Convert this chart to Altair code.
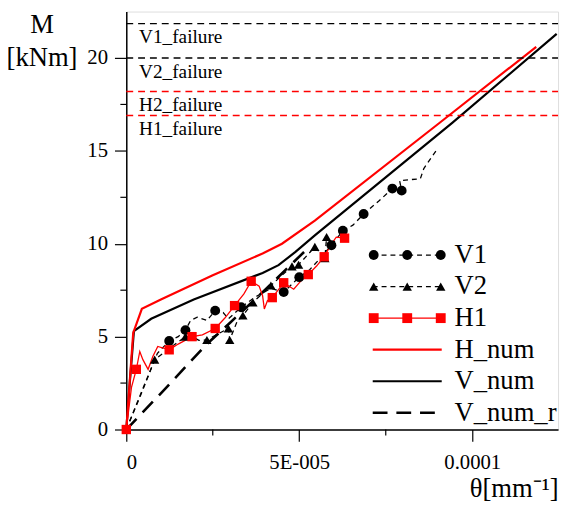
import altair as alt
import pandas as pd

# ---------------- data (theta in units of 1e-5 mm^-1, M in kNm) ----------------
# numerical models
h_num_theta = [0, 0.1, 0.2, 0.45, 1.0, 2.5, 3.94, 4.5, 5.45, 9.05, 11.85]
h_num_M = [0, 2.6, 5.2, 6.5, 7.0, 8.3, 9.48, 10.0, 11.24, 16.5, 20.6]

v_num_theta = [0, 0.1, 0.22, 0.72, 1.95, 3.94, 4.4, 4.89, 5.45, 9.43, 12.44]
v_num_M = [0, 2.5, 5.3, 5.96, 7.0, 8.43, 8.85, 9.56, 10.45, 16.52, 21.3]

v_num_r_theta = [0, 1.0, 2.33, 3.0, 4.0, 5.3]
v_num_r_M = [0, 1.95, 4.6, 5.75, 7.5, 9.85]

# experiments
v1_theta = [0, 0.5, 0.9, 1.24, 1.5, 1.71, 1.86, 2.05, 2.33, 2.57, 2.8, 2.95, 3.32, 3.7,
            4.18, 4.55, 5.0, 5.3, 5.6, 5.93, 6.26, 6.55, 6.86, 7.3, 7.69, 7.96, 7.9, 8.5, 8.6, 8.96]
v1_M = [0, 2.3, 4.1, 4.77, 5.0, 5.35, 5.87, 6.05, 5.87, 6.4, 6.3, 5.96, 6.58, 7.1,
        7.6, 7.4, 8.2, 8.6, 9.2, 9.92, 10.7, 11.0, 11.6, 12.3, 12.97, 12.86, 13.4, 13.5, 14.05, 15.02]
v1_marker = [0, 0, 0, 1, 0, 1, 0, 0, 0, 1, 0, 0, 1, 0,
             0, 1, 1, 0, 0, 1, 1, 0, 1, 0, 1, 1, 0, 0, 0, 0]

v2_theta = [0, 0.45, 0.82, 1.2, 1.71, 1.9, 2.1, 2.33, 2.6, 2.95, 2.99, 3.2, 3.37, 3.66,
            4.18, 4.5, 4.79, 4.98, 5.45, 5.74, 5.79]
v2_M = [0, 2.0, 3.76, 4.3, 5.0, 5.0, 4.8, 4.82, 5.1, 5.44, 4.82, 5.8, 6.14, 6.84,
        7.75, 8.3, 8.78, 8.87, 9.83, 9.22, 10.36]
v2_marker = [0, 0, 1, 0, 1, 1, 0, 1, 0, 1, 1, 0, 1, 1,
             1, 0, 1, 1, 1, 1, 1]

h1_theta = [0, 0.15, 0.29, 0.39, 0.48, 0.63, 0.77, 0.91, 1.24, 1.5, 1.9, 2.2, 2.57, 2.85,
            3.13, 3.4, 3.61, 3.84, 3.94, 3.99, 4.08, 4.22, 4.55, 4.84, 5.08, 5.26, 5.5,
            5.72, 5.93, 6.07, 6.31]
h1_M = [0, 2.27, 3.24, 4.2, 3.76, 3.24, 3.94, 4.47, 4.29, 4.6, 5.0, 5.1, 5.44, 6.0,
        6.67, 7.3, 7.98, 7.72, 7.2, 6.49, 6.93, 7.1, 7.9, 7.55, 8.07, 8.34, 8.8,
        9.3, 10.0, 10.36, 10.3]
h1_marker = [1, 0, 1, 0, 0, 0, 0, 0, 1, 0, 1, 0, 1, 0,
             1, 0, 1, 0, 0, 0, 0, 1, 1, 0, 0, 1, 0,
             1, 0, 0, 1]

# failure levels
failure_names = ["V1_failure", "V2_failure", "H2_failure", "H1_failure"]
failure_M = [21.85, 20.0, 18.2, 16.9]
failure_colors = ["#000000", "#000000", "#ff0000", "#ff0000"]

# axes
x_ticks = [0, 5e-5, 1e-4]
x_tick_labels = ["0", "5E-005", "0.0001"]
x_minor = [2.5e-5, 7.5e-5]
y_ticks = [0, 5, 10, 15, 20]
y_minor = [2.5, 7.5, 12.5, 17.5]

legend_names = ["V1", "V2", "H1", "H_num", "V_num", "V_num_r"]

# ---------------- layout / style ----------------
FONT = "Liberation Serif, Times New Roman, serif"
X_MAX = 1.248e-4
Y_MAX = 22.5
W, H = 438, 424
RED = "#ff0000"
BLACK = "#000000"

label_expr = "".join(
    f"abs(datum.value - {v}) < 1e-9 ? '{lab}' : " for v, lab in zip(x_ticks, x_tick_labels)
) + "''"

x_axis = alt.Axis(values=x_ticks, labelExpr=label_expr, tickSize=12, labelFontSize=21,
                  labelPadding=11, labelFont=FONT, labelColor=BLACK, tickColor=BLACK,
                  tickWidth=1.2, domainColor=BLACK, domainWidth=1.5, grid=False,
                  title="θ[mm⁻¹]", titleX=W, titleY=68, titleAlign="right",
                  titleBaseline="alphabetic", titleAnchor="end", titleFont=FONT,
                  titleFontSize=27, titleFontWeight="normal", titleColor=BLACK)
y_axis = alt.Axis(values=y_ticks, tickSize=12, labelFontSize=21, labelPadding=7,
                  labelFont=FONT, labelColor=BLACK, tickColor=BLACK, tickWidth=1.2,
                  domainColor=BLACK, domainWidth=1.5, grid=False,
                  title=["M", "[kNm]"], titleAngle=0, titleX=-86, titleY=21,
                  titleAlign="center", titleBaseline="alphabetic", titleLineHeight=34,
                  titleFont=FONT, titleFontSize=27, titleFontWeight="normal",
                  titleColor=BLACK)

xs = alt.Scale(domain=[0, X_MAX], nice=False, zero=False)
ys = alt.Scale(domain=[0, Y_MAX], nice=False, zero=False)


def X(field="theta"):
    return alt.X(f"{field}:Q", scale=xs, axis=x_axis)


def Y(field="M"):
    return alt.Y(f"{field}:Q", scale=ys, axis=y_axis)


def frame(theta, M, marker=None):
    d = pd.DataFrame({"theta": [t * 1e-5 for t in theta], "M": M})
    d["i"] = range(len(d))
    if marker is not None:
        d["mk"] = marker
    return d


layers = []


def line(df, color, width, dash=None):
    kw = dict(color=color, strokeWidth=width)
    if dash:
        kw["strokeDash"] = dash
    return alt.Chart(df).mark_line(**kw).encode(x=X(), y=Y(), order="i:Q")


# models
layers.append(line(frame(v_num_r_theta, v_num_r_M), BLACK, 2.6, [15, 9]))
layers.append(line(frame(v_num_theta, v_num_M), BLACK, 2.2))
layers.append(line(frame(h_num_theta, h_num_M), RED, 2.2))

# experiments
v1_df = frame(v1_theta, v1_M, v1_marker)
v2_df = frame(v2_theta, v2_M, v2_marker)
h1_df = frame(h1_theta, h1_M, h1_marker)
layers.append(line(v1_df, BLACK, 1.3, [5, 4]))
layers.append(line(v2_df, BLACK, 1.3, [5, 4]))
layers.append(line(h1_df, RED, 1.3))
layers.append(alt.Chart(v1_df).mark_point(shape="circle", filled=True, size=100, opacity=1,
                                          color=BLACK).encode(x=X(), y=Y()).transform_filter("datum.mk == 1"))
layers.append(alt.Chart(v2_df).mark_point(shape="triangle-up", filled=True, size=90, opacity=1,
                                          color=BLACK).encode(x=X(), y=Y()).transform_filter("datum.mk == 1"))
layers.append(alt.Chart(h1_df).mark_point(shape="square", filled=True, size=90, opacity=1,
                                          color=RED).encode(x=X(), y=Y()).transform_filter("datum.mk == 1"))

# failure lines and labels
for name, m, c in zip(failure_names, failure_M, failure_colors):
    fdf = pd.DataFrame({"name": [name], "M": [m]})
    layers.append(alt.Chart(fdf).mark_rule(strokeDash=[7, 5], strokeWidth=1.5, color=c,
                                           opacity=1).encode(
        y=Y(), x=alt.value(0), x2=alt.value(W)))
    layers.append(alt.Chart(fdf).mark_text(align="left", baseline="alphabetic", dy=20,
                                           font=FONT, fontSize=19.5, color=BLACK).encode(
        x=alt.value(13), y=Y(), text="name:N"))

# minor ticks
ym_df = pd.DataFrame({"M": y_minor})
layers.append(alt.Chart(ym_df).mark_rule(color=BLACK, strokeWidth=1.2).encode(
    y=Y(), x=alt.value(-6), x2=alt.value(0)))
xm_df = pd.DataFrame({"theta": x_minor})
layers.append(alt.Chart(xm_df).mark_rule(color=BLACK, strokeWidth=1.2).encode(
    x=X(), y=alt.value(H), y2=alt.value(H + 6)))

# legend (layout in pixels)
LEG_Y0, LEG_DY = 247, 32
LEG_X1, LEG_X2 = 250, 320
LEG_MK = [251, 285, 319]
LEG_TX = 333
legend_style = {
    "V1": dict(color=BLACK, width=1.3, dash=[5, 4], shape="circle", size=100),
    "V2": dict(color=BLACK, width=1.3, dash=[5, 4], shape="triangle-up", size=90),
    "H1": dict(color=RED, width=1.3, dash=None, shape="square", size=100),
    "H_num": dict(color=RED, width=2.2, dash=None, shape=None, size=0),
    "V_num": dict(color=BLACK, width=2.2, dash=None, shape=None, size=0),
    "V_num_r": dict(color=BLACK, width=2.6, dash=[15, 9], shape=None, size=0),
}
one = pd.DataFrame({"k": [0]})
for idx, name in enumerate(legend_names):
    st = legend_style[name]
    yy = LEG_Y0 + idx * LEG_DY
    kw = dict(color=st["color"], strokeWidth=st["width"])
    if st["dash"]:
        kw["strokeDash"] = st["dash"]
    layers.append(alt.Chart(one).mark_rule(**kw).encode(
        x=alt.value(LEG_X1), x2=alt.value(LEG_X2), y=alt.value(yy)))
    if st["shape"]:
        for mx in LEG_MK:
            layers.append(alt.Chart(one).mark_point(shape=st["shape"], filled=True, size=st["size"],
                                                    opacity=1, color=st["color"]).encode(
                x=alt.value(mx), y=alt.value(yy)))
    layers.append(alt.Chart(one).mark_text(align="left", baseline="middle", font=FONT,
                                           fontSize=27, color=BLACK, text=name).encode(
        x=alt.value(LEG_TX), y=alt.value(yy)))

chart = alt.layer(*layers).properties(
    width=W, height=H,
    autosize=alt.AutoSizeParams(type="none"),
    padding={"left": 120, "top": 0, "right": 3, "bottom": 75},
).configure_view(stroke=BLACK, strokeWidth=1.5).configure(font=FONT, background="white")

chart.save("out.html", embed_options={"renderer": "svg", "actions": False})
